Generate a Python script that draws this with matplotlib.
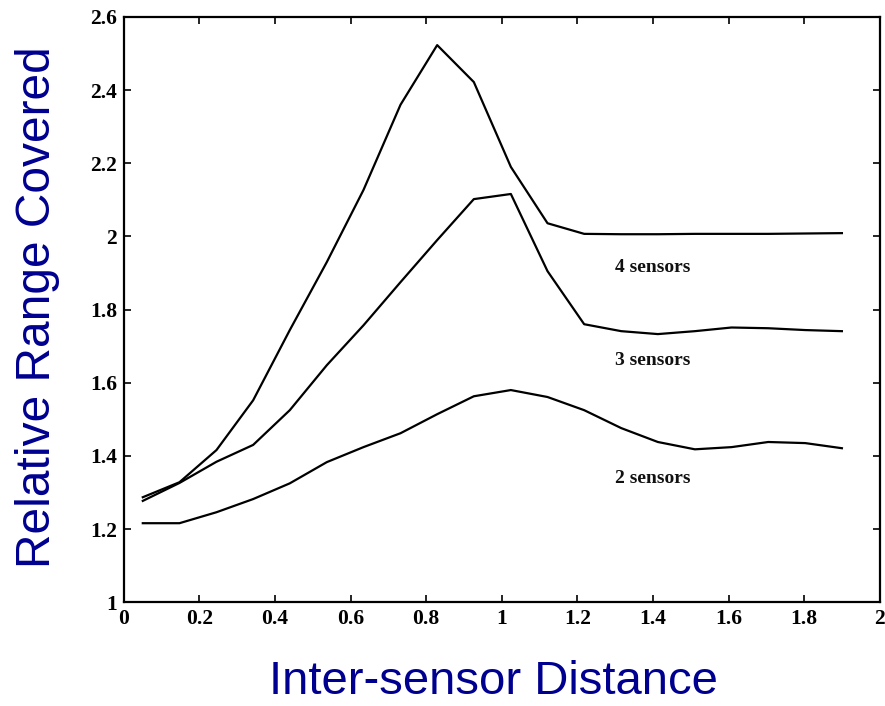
import matplotlib
matplotlib.use("Agg")
import matplotlib.pyplot as plt

x = [0.05, 0.147, 0.245, 0.342, 0.439, 0.537, 0.634, 0.732, 0.829, 0.926,
     1.024, 1.121, 1.218, 1.316, 1.413, 1.511, 1.608, 1.705, 1.803, 1.9]
four_sensors = [1.287, 1.328, 1.416, 1.552, 1.744, 1.93, 2.127, 2.36, 2.523, 2.422,
                2.19, 2.036, 2.007, 2.006, 2.006, 2.007, 2.007, 2.007, 2.008, 2.009]
three_sensors = [1.277, 1.326, 1.384, 1.43, 1.525, 1.648, 1.757, 1.875, 1.99, 2.102,
                 2.116, 1.905, 1.76, 1.741, 1.733, 1.741, 1.751, 1.749, 1.744, 1.741]
two_sensors = [1.216, 1.216, 1.246, 1.282, 1.325, 1.383, 1.424, 1.462, 1.514, 1.563,
               1.58, 1.561, 1.525, 1.476, 1.438, 1.418, 1.424, 1.438, 1.435, 1.421]

series_labels = ["4 sensors", "3 sensors", "2 sensors"]
label_pos_x = [1.4, 1.4, 1.4]
label_pos_y = [1.916, 1.662, 1.339]

xticks = [0, 0.2, 0.4, 0.6, 0.8, 1, 1.2, 1.4, 1.6, 1.8, 2]
xticklabels = ["0", "0.2", "0.4", "0.6", "0.8", "1", "1.2", "1.4", "1.6", "1.8", "2"]
yticks = [1, 1.2, 1.4, 1.6, 1.8, 2, 2.2, 2.4, 2.6]
yticklabels = ["1", "1.2", "1.4", "1.6", "1.8", "2", "2.2", "2.4", "2.6"]

fig = plt.figure(figsize=(8.85, 7.06), dpi=100)
ax = fig.add_axes([0.140, 0.147, 0.854, 0.829])

for ys in (four_sensors, three_sensors, two_sensors):
    ax.plot(x, ys, color="black", linewidth=1.6)

for lab, lx, ly in zip(series_labels, label_pos_x, label_pos_y):
    ax.text(lx, ly, lab, ha="center", va="center", fontsize=14,
            family="Liberation Serif", fontweight="bold", color="#111111")

ax.set_xlim(0, 2)
ax.set_ylim(1, 2.6)
ax.set_xticks(xticks)
ax.set_xticklabels(xticklabels)
ax.set_yticks(yticks)
ax.set_yticklabels(yticklabels)
ax.tick_params(direction="in", length=5, width=1.2, top=True, right=True,
               labelsize=15.5, pad=5)
for lbl in ax.get_xticklabels() + ax.get_yticklabels():
    lbl.set_family("Liberation Serif")
    lbl.set_fontweight("bold")
for sp in ax.spines.values():
    sp.set_linewidth(1.6)

fig.text(0.557, 1 - 694 / 706, "Inter-sensor Distance", fontsize=34,
         family="Liberation Sans", color="#000090", ha="center", va="baseline")
fig.text(50 / 885, 1 - 307.5 / 706, "Relative Range Covered", fontsize=34.5,
         family="Liberation Sans", color="#000090", ha="center", va="baseline",
         rotation=90, rotation_mode="anchor")

fig.savefig("out.png", dpi=100)
